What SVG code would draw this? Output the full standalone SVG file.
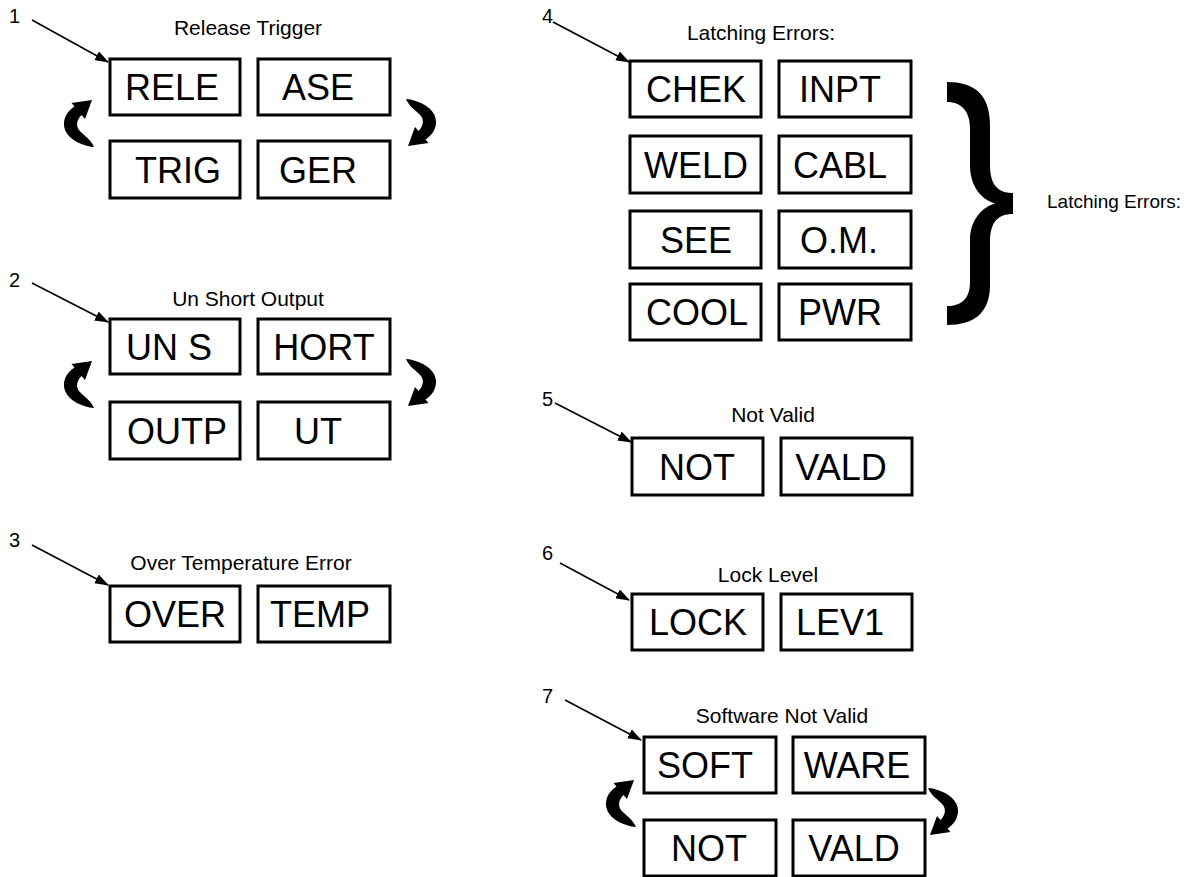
<svg xmlns="http://www.w3.org/2000/svg" width="1198" height="877" viewBox="0 0 1198 877">
<defs>
<style>
.box{fill:#fff;stroke:#000;stroke-width:3}
.bt{font-family:"Liberation Sans",Arial,sans-serif;font-size:36px;fill:#000;text-anchor:middle}
.tt{font-family:"Liberation Sans",Arial,sans-serif;font-size:21px;fill:#000;text-anchor:middle}
.num{font-family:"Liberation Sans",Arial,sans-serif;font-size:20px;fill:#000}
.ptr{stroke:#000;stroke-width:1.6;fill:none;marker-end:url(#ah)}
</style>
<marker id="ah" markerUnits="userSpaceOnUse" markerWidth="14" markerHeight="10" refX="13" refY="5" orient="auto">
<path d="M0,0 L14,5 L0,10 Z" fill="#000"/>
</marker>
<path id="curl" d="M29,0 L22,19 L18.5,15 C12.5,21 12.5,28 19,33 C23,37 28,40 31,47 C19,46 7,40 2.5,31 C-1.5,22 2.5,12 11.5,6.5 L8.5,3 Z" fill="#000"/>
</defs>
<rect width="1198" height="877" fill="#fff"/>

<g id="connectors">
<line class="ptr" x1="32" y1="20" x2="108" y2="62"/>
<line class="ptr" x1="32" y1="283" x2="108" y2="322"/>
<line class="ptr" x1="32" y1="545" x2="108" y2="585"/>
<line class="ptr" x1="553" y1="22" x2="629" y2="62"/>
<line class="ptr" x1="555" y1="403" x2="631" y2="442"/>
<line class="ptr" x1="560" y1="563" x2="629" y2="600"/>
<line class="ptr" x1="565" y1="700" x2="641" y2="740"/>
<use href="#curl" transform="translate(63,100)"/>
<use href="#curl" transform="translate(437,146) rotate(180)"/>
<use href="#curl" transform="translate(63,361)"/>
<use href="#curl" transform="translate(437,406) rotate(180)"/>
<use href="#curl" transform="translate(605,780)"/>
<use href="#curl" transform="translate(959,835) rotate(180)"/>
</g>

<g id="group1">
<text class="num" x="9" y="23">1</text>
<text class="tt" x="248" y="35">Release Trigger</text>
<g id="n-rele"><rect class="box" x="110" y="59" width="130" height="56"/><text class="bt" x="172" y="100">RELE</text></g>
<g id="n-ase"><rect class="box" x="258" y="59" width="132" height="56"/><text class="bt" x="318" y="100">ASE</text></g>
<g id="n-trig"><rect class="box" x="110" y="141" width="130" height="57"/><text class="bt" x="178" y="183">TRIG</text></g>
<g id="n-ger"><rect class="box" x="258" y="141" width="132" height="57"/><text class="bt" x="318" y="183">GER</text></g>
</g>

<g id="group2">
<text class="num" x="9" y="287">2</text>
<text class="tt" x="248" y="306">Un Short Output</text>
<g id="n-uns"><rect class="box" x="110" y="319" width="130" height="55"/><text class="bt" x="169" y="360">UN S</text></g>
<g id="n-hort"><rect class="box" x="258" y="319" width="132" height="55"/><text class="bt" x="324" y="360">HORT</text></g>
<g id="n-outp"><rect class="box" x="110" y="402" width="130" height="57"/><text class="bt" x="177" y="444">OUTP</text></g>
<g id="n-ut"><rect class="box" x="258" y="402" width="132" height="57"/><text class="bt" x="318" y="444">UT</text></g>
</g>

<g id="group3">
<text class="num" x="9" y="547">3</text>
<text class="tt" x="241" y="570">Over Temperature Error</text>
<g id="n-over"><rect class="box" x="110" y="586" width="130" height="56"/><text class="bt" x="175" y="627">OVER</text></g>
<g id="n-temp"><rect class="box" x="258" y="586" width="132" height="56"/><text class="bt" x="320" y="627">TEMP</text></g>
</g>

<g id="group4">
<text class="num" x="542" y="23">4</text>
<text class="tt" x="761" y="40">Latching Errors:</text>
<g id="n-chek"><rect class="box" x="630" y="61" width="131" height="56"/><text class="bt" x="696" y="102">CHEK</text></g>
<g id="n-inpt"><rect class="box" x="779" y="61" width="132" height="56"/><text class="bt" x="840" y="102">INPT</text></g>
<g id="n-weld"><rect class="box" x="630" y="136" width="131" height="57"/><text class="bt" x="696" y="178">WELD</text></g>
<g id="n-cabl"><rect class="box" x="779" y="136" width="132" height="57"/><text class="bt" x="840" y="178">CABL</text></g>
<g id="n-see"><rect class="box" x="630" y="211" width="131" height="57"/><text class="bt" x="696" y="253">SEE</text></g>
<g id="n-om"><rect class="box" x="779" y="211" width="132" height="57"/><text class="bt" x="839" y="253">O.M.</text></g>
<g id="n-cool"><rect class="box" x="630" y="284" width="131" height="56"/><text class="bt" x="697" y="325">COOL</text></g>
<g id="n-pwr"><rect class="box" x="779" y="284" width="132" height="56"/><text class="bt" x="840" y="325">PWR</text></g>
<g id="brace">
<path d="M947,82 C975,82 990,95 990,125 L990,165 C990,185 998,193 1013,193 L1013,214 C998,214 990,222 990,242 L990,285 C990,312 975,325 947,325 L947,306 C962,306 970,298 970,282 L970,240 C970,222 980,208 995,203.5 C980,199 970,185 970,165 L970,128 C970,112 962,102 947,102 Z" fill="#000"/>
</g>
<text class="num" x="1047" y="208" style="font-size:19px">Latching Errors:</text>
</g>

<g id="group5">
<text class="num" x="542" y="406">5</text>
<text class="tt" x="773" y="422">Not Valid</text>
<g id="n-not1"><rect class="box" x="632" y="438" width="131" height="57"/><text class="bt" x="697" y="480">NOT</text></g>
<g id="n-vald1"><rect class="box" x="781" y="438" width="131" height="57"/><text class="bt" x="841" y="480">VALD</text></g>
</g>

<g id="group6">
<text class="num" x="542" y="560">6</text>
<text class="tt" x="768" y="582">Lock Level</text>
<g id="n-lock"><rect class="box" x="632" y="594" width="131" height="56"/><text class="bt" x="698" y="635">LOCK</text></g>
<g id="n-lev1"><rect class="box" x="781" y="594" width="131" height="56"/><text class="bt" x="840" y="635">LEV1</text></g>
</g>

<g id="group7">
<text class="num" x="542" y="703">7</text>
<text class="tt" x="782" y="723">Software Not Valid</text>
<g id="n-soft"><rect class="box" x="644" y="737" width="132" height="56"/><text class="bt" x="705" y="778">SOFT</text></g>
<g id="n-ware"><rect class="box" x="793" y="737" width="132" height="56"/><text class="bt" x="857" y="778">WARE</text></g>
<g id="n-not2"><rect class="box" x="644" y="820" width="132" height="56"/><text class="bt" x="709" y="861">NOT</text></g>
<g id="n-vald2"><rect class="box" x="793" y="820" width="132" height="56"/><text class="bt" x="854" y="861">VALD</text></g>
</g>
</svg>
